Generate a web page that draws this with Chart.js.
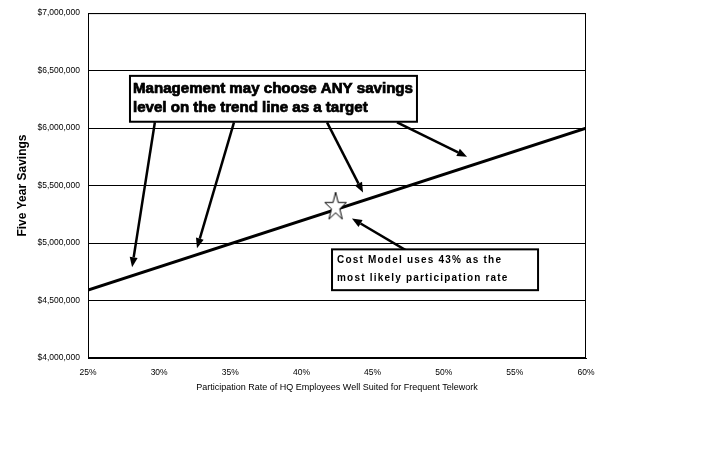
<!DOCTYPE html>
<html>
<head>
<meta charset="utf-8">
<title>Five Year Savings vs Participation Rate</title>
<script src="https://cdn.jsdelivr.net/npm/chart.js@4.4.1/dist/chart.umd.min.js"></script>
<style>
  html, body { margin: 0; padding: 0; background: #fff; }
  #chart { display: block; }
</style>
</head>
<body>
<canvas id="chart" width="720" height="450"></canvas>
<script>
// trend line (participation rate %, five year savings $)
const rates = [25, 60];
const savings = [4590000, 6000000];

// cost model marker
const modelRate = [42.4];
const modelSavings = [5325000];

// axis ranges
const yMin = 4000000, yMax = 7000000, yStep = 500000;
const xMin = 25, xMax = 60, xStep = 5;

const noteTop = ['Management may choose ANY savings', 'level on the trend line as a target'];
const noteBottom = ['Cost Model uses 43% as the', 'most likely participation rate'];

// callouts are placed in data coordinates: box [x1, y1, x2, y2], arrows [fromX, fromY, toX, toY]
const callouts = [
  {
    lines: noteTop,
    box: [27.95, 6454000, 48.12, 6055000],
    size: 14,
    fitWidth: 280,
    heavy: 0.7,
    spacing: '0px',
    rows: [13, 32],
    indent: 3,
    arrows: [
      [29.7, 6050000, 28.1, 4789000],
      [35.26, 6050000, 32.66, 4954000],
      [41.8, 6050000, 44.33, 5439000],
      [46.72, 6050000, 51.64, 5751000]
    ]
  },
  {
    lines: noteBottom,
    box: [42.15, 4945000, 56.63, 4590000],
    size: 10,
    fitWidth: 0,
    heavy: 0,
    spacing: '1.2px',
    rows: [11, 29],
    indent: 5,
    arrows: [
      [47.77, 4906000, 43.55, 5214000]
    ]
  }
];

const fontFamily = '"Liberation Sans", Arial, sans-serif';

function starImage() {
  const c = document.createElement('canvas');
  c.width = 24; c.height = 29;
  const g = c.getContext('2d');
  const R = 11.4, r = R * 0.382, sy = 1.309;
  const cx = 12, cy = 1 + R * sy;
  g.beginPath();
  for (let i = 0; i < 10; i++) {
    const a = (-90 + i * 36) * Math.PI / 180;
    const rad = i % 2 ? r : R;
    const px = cx + rad * Math.cos(a), py = cy + rad * Math.sin(a) * sy;
    i ? g.lineTo(px, py) : g.moveTo(px, py);
  }
  g.closePath();
  g.fillStyle = '#fff';
  g.fill();
  g.strokeStyle = '#000';
  g.lineWidth = 1;
  g.stroke();
  return c;
}

function drawArrow(ctx, x1, y1, x2, y2) {
  const ang = Math.atan2(y2 - y1, x2 - x1);
  const head = 10, half = 4;
  const bx = x2 - head * Math.cos(ang), by = y2 - head * Math.sin(ang);
  ctx.beginPath();
  ctx.moveTo(x1, y1);
  ctx.lineTo(bx, by);
  ctx.stroke();
  ctx.beginPath();
  ctx.moveTo(x2, y2);
  ctx.lineTo(bx + half * Math.sin(ang), by - half * Math.cos(ang));
  ctx.lineTo(bx - half * Math.sin(ang), by + half * Math.cos(ang));
  ctx.closePath();
  ctx.fill();
}

const frameAndNotes = {
  id: 'frameAndNotes',
  afterDraw(chart) {
    const { ctx, chartArea: a, scales: { x, y } } = chart;
    ctx.save();
    ctx.strokeStyle = '#000';
    ctx.lineWidth = 1;
    ctx.strokeRect(a.left + 0.5, a.top + 0.5, a.right - a.left - 1, a.bottom - a.top - 1);

    callouts.forEach(c => {
      ctx.fillStyle = '#000';
      ctx.strokeStyle = '#000';
      ctx.lineWidth = 2.5;
      c.arrows.forEach(ar => {
        drawArrow(ctx, x.getPixelForValue(ar[0]), y.getPixelForValue(ar[1]),
          x.getPixelForValue(ar[2]), y.getPixelForValue(ar[3]));
      });
      const bx1 = x.getPixelForValue(c.box[0]), by1 = y.getPixelForValue(c.box[1]);
      const bx2 = x.getPixelForValue(c.box[2]), by2 = y.getPixelForValue(c.box[3]);
      ctx.fillStyle = '#fff';
      ctx.fillRect(bx1, by1, bx2 - bx1, by2 - by1);
      ctx.lineWidth = 2;
      ctx.strokeRect(bx1, by1, bx2 - bx1, by2 - by1);

      ctx.fillStyle = '#000';
      ctx.font = 'bold ' + c.size + 'px ' + fontFamily;
      ctx.letterSpacing = c.spacing;
      ctx.textAlign = 'left';
      ctx.textBaseline = 'middle';
      let sx = 1;
      if (c.fitWidth) {
        const w = Math.max(...c.lines.map(t => ctx.measureText(t).width));
        sx = c.fitWidth / w;
      }
      c.lines.forEach((t, i) => {
        ctx.save();
        ctx.translate(bx1 + c.indent, by1 + c.rows[i]);
        ctx.scale(sx, 1);
        ctx.fillText(t, 0, 0);
        if (c.heavy) {
          ctx.lineWidth = c.heavy;
          ctx.strokeText(t, 0, 0);
        }
        ctx.restore();
      });
      ctx.letterSpacing = '0px';
    });
    ctx.restore();
  }
};

const tickFont = { family: fontFamily, size: 8.5 };

new Chart(document.getElementById('chart'), {
  type: 'scatter',
  data: {
    datasets: [{
      label: 'Trend',
      data: rates.map((r, i) => ({ x: r, y: savings[i] })),
      showLine: true,
      borderColor: '#000',
      borderWidth: 3,
      pointRadius: 0,
      order: 2
    }, {
      label: 'Cost Model',
      data: modelRate.map((r, i) => ({ x: r, y: modelSavings[i] })),
      pointStyle: starImage(),
      pointRadius: 12,
      order: 1
    }]
  },
  options: {
    responsive: false,
    animation: false,
    events: [],
    layout: { padding: { top: 12, right: 134, bottom: 56, left: 0 } },
    plugins: {
      legend: { display: false },
      tooltip: { enabled: false }
    },
    scales: {
      x: {
        type: 'linear',
        min: xMin, max: xMax,
        afterFit: s => { s.height = 36; },
        grid: { display: false, drawTicks: false },
        border: { color: '#000', width: 1 },
        ticks: { stepSize: xStep, color: '#000', font: tickFont, padding: 10, callback: v => v + '%' },
        title: {
          display: true,
          text: 'Participation Rate of HQ Employees Well Suited for Frequent Telework',
          color: '#000',
          font: { family: fontFamily, size: 9 },
          padding: { top: 0, bottom: 1 }
        }
      },
      y: {
        min: yMin, max: yMax,
        afterFit: s => { s.width = 88; },
        grid: { color: '#000', lineWidth: 1, drawTicks: false },
        border: { color: '#000', width: 1 },
        ticks: { stepSize: yStep, color: '#000', font: tickFont, padding: 8,
          callback: v => '$' + v.toLocaleString('en-US') },
        title: {
          display: true,
          text: 'Five Year Savings',
          color: '#000',
          font: { family: fontFamily, size: 12, weight: 'bold' },
          padding: { top: 15, bottom: 0 }
        }
      }
    }
  },
  plugins: [frameAndNotes]
});
</script>
</body>
</html>
